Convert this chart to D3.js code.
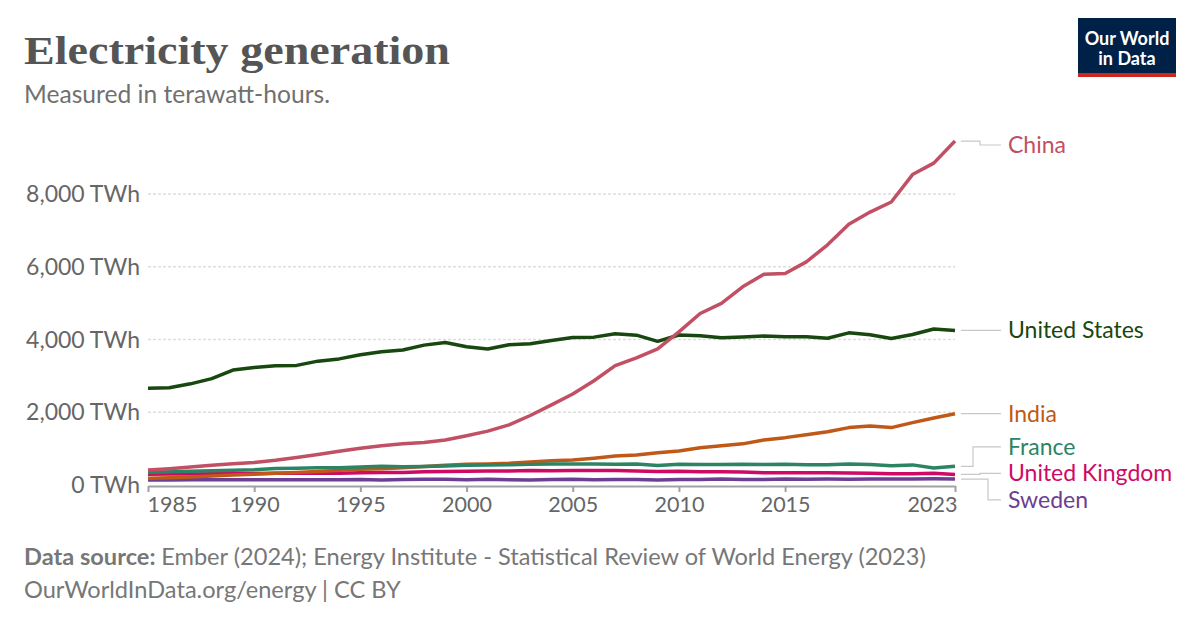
<!DOCTYPE html>
<html>
<head>
<meta charset="utf-8">
<script src="https://cdn.jsdelivr.net/npm/d3@7"></script>
<style>
  html, body { margin: 0; padding: 0; background: #fff; }
  svg { display: block; }
  text { font-family: Lato, "Noto Sans", sans-serif; }
</style>
</head>
<body>
<svg id="chart" width="1200" height="628"></svg>
<script>
const years = d3.range(1985, 2024);
const yTicks = [0, 2000, 4000, 6000, 8000];
const xTicks = [1985, 1990, 1995, 2000, 2005, 2010, 2015, 2023];

const countries = ["China", "United States", "India", "France", "United Kingdom", "Sweden"];
const colors = ["#C15065", "#18470F", "#C05917", "#2C8465", "#CF0A66", "#6D3E91"];

const china = [411, 449, 497, 545, 585, 621, 678, 754, 836, 928, 1008, 1081, 1134, 1167, 1239,
  1356, 1481, 1654, 1911, 2203, 2500, 2866, 3282, 3496, 3742, 4208, 4716, 4994, 5447, 5794,
  5815, 6134, 6604, 7166, 7503, 7779, 8534, 8849, 9456];
const usa = [2657, 2676, 2781, 2924, 3160, 3232, 3276, 3288, 3405, 3467, 3582, 3662, 3712, 3845, 3918,
  3802, 3737, 3858, 3883, 3971, 4055, 4065, 4157, 4119, 3950, 4125, 4100, 4048, 4066, 4094,
  4078, 4077, 4034, 4183, 4130, 4026, 4136, 4290, 4250];
const india = [183, 202, 221, 246, 274, 293, 322, 345, 370, 402, 430, 448, 476, 507, 546,
  570, 579, 596, 633, 666, 689, 738, 797, 827, 887, 934, 1022, 1081, 1131, 1240,
  1302, 1383, 1465, 1578, 1622, 1578, 1716, 1843, 1960];
const france = [344, 362, 381, 390, 407, 420, 455, 463, 472, 477, 494, 513, 505, 511, 524,
  540, 549, 559, 567, 574, 576, 574, 570, 574, 535, 569, 562, 564, 573, 563,
  570, 556, 554, 574, 562, 530, 553, 469, 514];
const uk = [298, 301, 301, 307, 313, 319, 322, 321, 323, 326, 334, 347, 345, 362, 368,
  377, 385, 387, 398, 394, 398, 397, 396, 385, 373, 378, 365, 361, 356, 336,
  335, 336, 335, 329, 320, 309, 306, 320, 290];
const sweden = [137, 140, 146, 146, 143, 146, 147, 146, 145, 143, 148, 140, 149, 158, 155,
  145, 161, 146, 135, 151, 158, 143, 148, 150, 137, 149, 151, 166, 153, 154,
  162, 155, 164, 161, 166, 163, 166, 170, 163];

const seriesValues = [china, usa, india, france, uk, sweden];
const series = countries.map((name, i) => ({
  name, color: colors[i],
  values: years.map((yr, j) => ({ year: yr, value: seriesValues[i][j] }))
}));

const svg = d3.select("#chart");
const x = d3.scaleLinear().domain([1985, 2023]).range([148, 955]);
const y = d3.scaleLinear().domain([0, 8000]).range([485, 194]);

// Title & subtitle
svg.append("text").attr("x", 24).attr("y", 64)
  .attr("textLength", 426).attr("lengthAdjust", "spacingAndGlyphs")
  .style("font-family", "'Liberation Serif', 'DejaVu Serif', serif")
  .style("font-size", "41px").style("font-weight", "bold").style("fill", "#555")
  .text("Electricity generation");
svg.append("text").attr("x", 24).attr("y", 103)
  .style("font-size", "24.6px").style("fill", "#707070")
  .text("Measured in terawatt-hours.");

// Logo
const logo = svg.append("g");
logo.append("rect").attr("x", 1078).attr("y", 18).attr("width", 98).attr("height", 59).attr("fill", "#002147");
logo.append("rect").attr("x", 1078).attr("y", 73).attr("width", 98).attr("height", 4).attr("fill", "#CE261E");
logo.append("text").attr("x", 1127).attr("y", 45).attr("text-anchor", "middle")
  .style("font-size", "18px").style("font-weight", "bold").style("fill", "#fff").text("Our World");
logo.append("text").attr("x", 1127).attr("y", 65).attr("text-anchor", "middle")
  .style("font-size", "18px").style("font-weight", "bold").style("fill", "#fff").text("in Data");

// Grid lines
svg.append("g").selectAll("line").data(yTicks.filter(d => d > 0)).join("line")
  .attr("x1", 148).attr("x2", 955)
  .attr("y1", d => y(d)).attr("y2", d => y(d))
  .attr("stroke", "#dddddd").attr("stroke-width", 1.5).attr("stroke-dasharray", "3,2");

// Y labels
svg.append("g").selectAll("text").data(yTicks).join("text")
  .attr("x", 140).attr("y", d => y(d)).attr("dy", "0.35em").attr("text-anchor", "end")
  .style("font-size", "23px").style("fill", "#666")
  .text(d => d3.format(",")(d) + " TWh");

// X axis
const xAxis = svg.append("g").attr("transform", "translate(0,486)")
  .call(d3.axisBottom(x).tickValues(xTicks).tickFormat(d3.format("d")).tickSize(6).tickSizeOuter(0));
xAxis.select(".domain").attr("stroke", "#a1a1a1").attr("stroke-width", 2);
xAxis.selectAll(".tick line").attr("stroke", "#a1a1a1").attr("stroke-width", 2);
xAxis.selectAll(".tick text").style("font-size", "21.5px").style("fill", "#666")
  .style("font-family", "Lato, sans-serif").attr("y", 11)
  .attr("text-anchor", d => d === 1985 ? "start" : d === 2023 ? "end" : "middle")
  .attr("dx", d => d === 1985 ? -1 : d === 2023 ? 2 : 0);

// Lines
const line = d3.line().x(d => x(d.year)).y(d => y(d.value));
const drawOrder = ["Sweden", "United Kingdom", "India", "France", "United States", "China"];
svg.append("g").selectAll("path").data(drawOrder.map(n => series.find(s => s.name === n))).join("path")
  .attr("d", d => line(d.values)).attr("fill", "none")
  .attr("stroke", d => d.color).attr("stroke-width", 3.5)
  .attr("stroke-linejoin", "round").attr("stroke-linecap", "butt");

// Label placement with cluster relaxation
const minGap = 26.5, minY = 145;
let labels = series.map(s => ({ s, target: y(s.values[s.values.length - 1].value) }))
  .sort((a, b) => a.target - b.target);
let clusters = labels.map(l => ({ items: [l], pos: Math.max(l.target, minY) }));
let changed = true;
while (changed) {
  changed = false;
  for (let i = 0; i < clusters.length - 1; i++) {
    const a = clusters[i], b = clusters[i + 1];
    const aBottom = a.pos + (a.items.length - 1) * minGap / 2;
    const bTop = b.pos - (b.items.length - 1) * minGap / 2;
    if (bTop - aBottom < minGap) {
      const items = a.items.concat(b.items);
      const pos = d3.mean(items, d => d.target);
      clusters.splice(i, 2, { items, pos });
      changed = true;
      break;
    }
  }
}
clusters.forEach(c => {
  const n = c.items.length;
  c.items.forEach((l, k) => { l.ly = c.pos + (k - (n - 1) / 2) * minGap; });
});

const lab = svg.append("g");
labels.forEach(l => {
  const diff = l.ly - l.target;
  const ex = Math.abs(diff) < 2 ? 980 : (diff < 0 ? 973 : (diff < 6 ? 980 : 988));
  lab.append("path")
    .attr("d", `M961,${l.target}H${ex}V${l.ly}H1001`)
    .attr("fill", "none").attr("stroke", "#c8c8c8").attr("stroke-width", 1.2);
  lab.append("text").attr("x", 1008).attr("y", l.ly).attr("dy", "0.35em")
    .style("font-size", "23px").style("fill", l.s.color).text(l.s.name);
});

// Footer
const f1 = svg.append("text").attr("x", 24).attr("y", 565).style("font-size", "23.6px").style("fill", "#777");
f1.append("tspan").style("font-weight", "bold").text("Data source: ");
f1.append("tspan").text("Ember (2024); Energy Institute - Statistical Review of World Energy (2023)");
svg.append("text").attr("x", 24).attr("y", 598).style("font-size", "23.6px").style("fill", "#777")
  .text("OurWorldInData.org/energy | CC BY");
</script>
</body>
</html>
